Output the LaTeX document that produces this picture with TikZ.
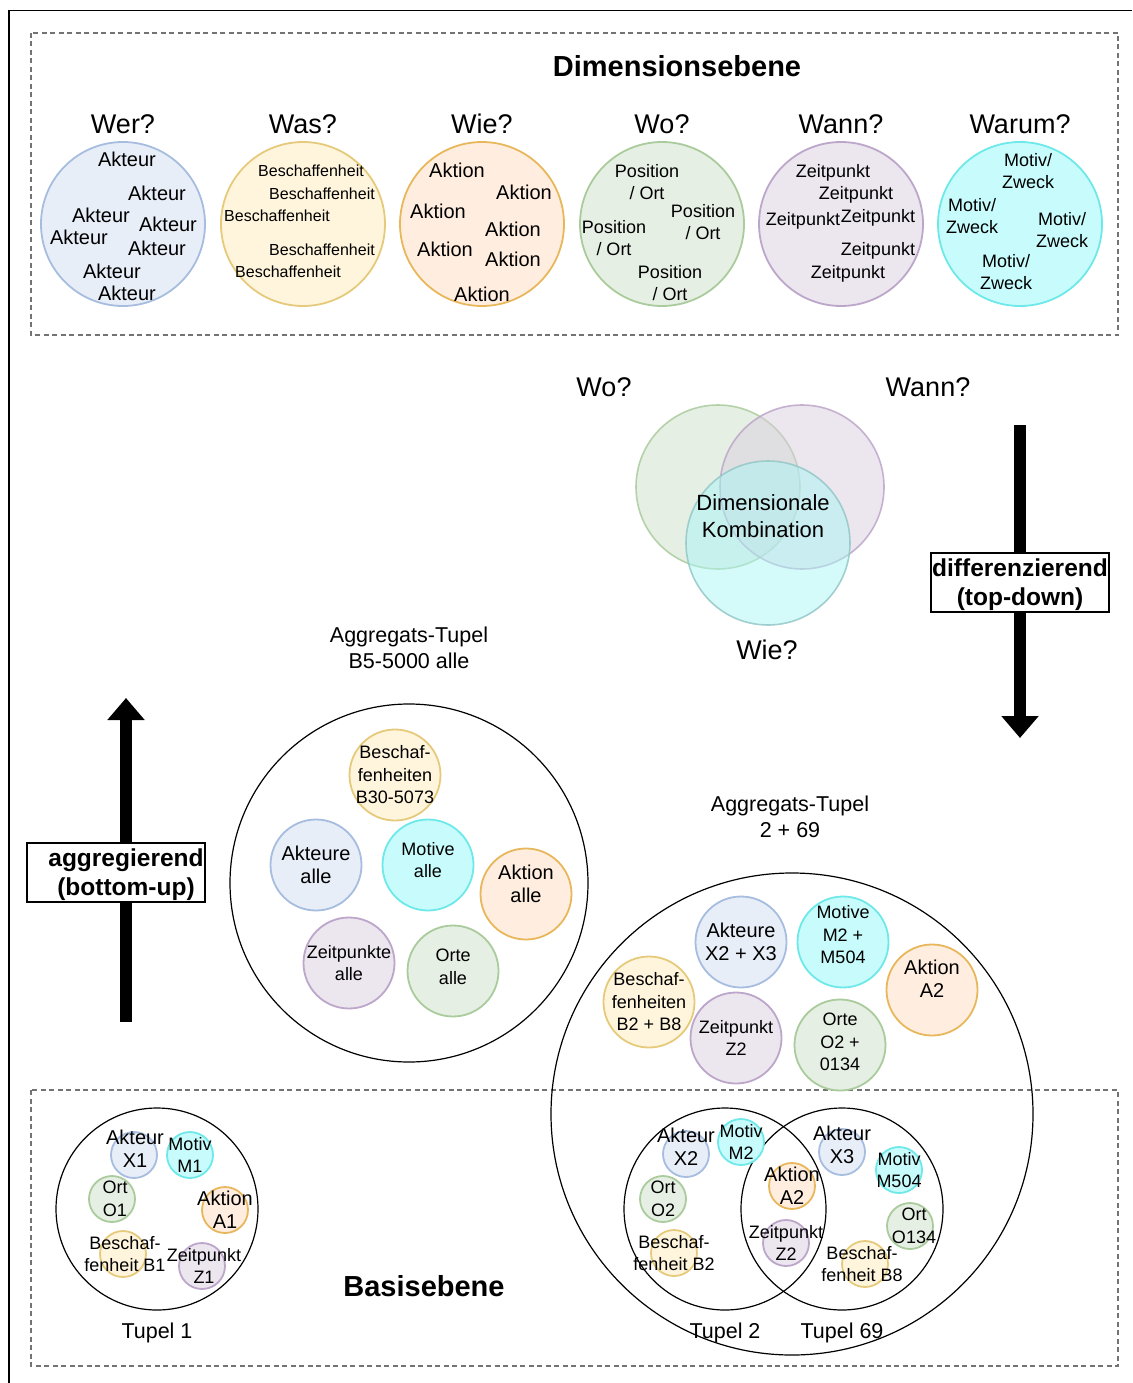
\documentclass[tikz,border=0pt]{standalone}
\usepackage{fontspec}
\setmainfont{Liberation Sans}
\usepackage{tikz}
\usetikzlibrary{positioning,arrows.meta}
\usepackage{xcolor}
% Farben der Dimensionen
\definecolor{werF}{HTML}{E8EEF8}
\definecolor{werD}{HTML}{A6BDDF}
\definecolor{wasF}{HTML}{FFF5DC}
\definecolor{wasD}{HTML}{E6CA7C}
\definecolor{wieF}{HTML}{FFEEDF}
\definecolor{wieD}{HTML}{E8B75C}
\definecolor{woF}{HTML}{E6EFE4}
\definecolor{woD}{HTML}{AACB9C}
\definecolor{wannF}{HTML}{ECE6EF}
\definecolor{wannD}{HTML}{BCA6C9}
\definecolor{warumF}{HTML}{C8FCFC}
\definecolor{warumD}{HTML}{6EE8E8}
\definecolor{woV}{HTML}{CDDFC9}
\definecolor{wannV}{HTML}{D9CDDF}
\definecolor{wieV}{HTML}{AAF5F5}

\begin{document}
\begin{tikzpicture}[
    x=1pt, y=-1pt,
    node distance=7pt,
    bubble/.style={circle, line width=1.8pt, inner sep=0pt},
    wer/.style={bubble, fill=werF, draw=werD},
    was/.style={bubble, fill=wasF, draw=wasD},
    wie/.style={bubble, fill=wieF, draw=wieD},
    wo/.style={bubble, fill=woF, draw=woD},
    wann/.style={bubble, fill=wannF, draw=wannD},
    warum/.style={bubble, fill=warumF, draw=warumD},
    dimdot/.style={minimum size=164pt},
    aggdot/.style={minimum size=91pt},
    tupdot/.style={minimum size=46pt},
    tuple/.style={circle, draw=black, line width=1.2pt, inner sep=0pt},
    venn/.style={circle, line width=1.6pt, inner sep=0pt, minimum size=164pt, fill opacity=0.5, draw opacity=0.85},
    txt/.style={inner sep=0pt, align=center, font=\fontsize{18}{22.5}\selectfont},
    txtL/.style={txt, font=\fontsize{20}{23}\selectfont},
    txtS/.style={txt, font=\fontsize{16}{20}\selectfont},
    txtM/.style={txt, font=\fontsize{21.5}{26.5}\selectfont},
    quest/.style={txt, font=\fontsize{27}{32}\selectfont},
    head/.style={txt, font=\fontsize{29}{34}\selectfont\bfseries},
    level/.style={draw=black!55, line width=1.4pt, dash pattern=on 5pt off 3.5pt},
    flowbox/.style={rectangle, draw=black, fill=white, line width=1.2pt, minimum width=178pt, minimum height=59pt, inner sep=0pt},
    flowtxt/.style={txt, font=\fontsize{24.5}{29}\selectfont\bfseries},
    flow/.style={line width=12pt, -{Triangle[width=36pt,length=22pt]}}
]
\useasboundingbox (0,0) rectangle (1132,1383);

% Rahmen und Ebenen
\draw[line width=1.3pt] (9,1383) -- (9,10.5) -- (1132,10.5);
\draw[level] (31,33) rectangle (1118,335);
\draw[level] (31,1090) rectangle (1118,1366);

% Dimensionsebene
\node[head] (dimHead) at (677,66) {Dimensionsebene};

\node[wer, dimdot] (werC) at (123,224) {};
\node[was, dimdot] (wasC) at (303,224) {};
\node[wie, dimdot] (wieC) at (482,224) {};
\node[wo, dimdot] (woC) at (662,224) {};
\node[wann, dimdot] (wannC) at (841,224) {};
\node[warum, dimdot] (warumC) at (1020,224) {};

\node[quest, above=of werC] (werQ) {Wer?};
\node[quest, above=of wasC] (wasQ) {Was?};
\node[quest, above=of wieC] (wieQ) {Wie?};
\node[quest, above=of woC] (woQ) {Wo?};
\node[quest, above=of wannC] (wannQ) {Wann?};
\node[quest, above=of warumC] (warumQ) {Warum?};

\foreach \px/\py [count=\i] in {127/159, 157/193, 101/215, 168/224, 79/237, 157/248, 112/271, 127/293}
  \node[txtL] (akteur\i) at (\px,\py) {Akteur};
\foreach \px/\py [count=\i] in {311/171, 322/194, 277/216, 322/250, 288/272}
  \node[txtS] (beschaff\i) at (\px,\py) {Beschaffenheit};
\foreach \px/\py [count=\i] in {457/170, 524/192, 438/211, 513/229, 445/249, 513/259, 482/294}
  \node[txtL] (aktion\i) at (\px,\py) {Aktion};
\foreach \px/\py [count=\i] in {647/182, 703/222, 614/238, 670/283}
  \node[txt] (position\i) at (\px,\py) {Position\\/ Ort};
\foreach \px/\py [count=\i] in {833/173, 856/195, 803/221, 878/218, 878/251, 848/274}
  \node[txt] (zeitpunkt\i) at (\px,\py) {Zeitpunkt};
\foreach \px/\py [count=\i] in {1028/171, 972/216, 1062/230, 1006/272}
  \node[txt] (motiv\i) at (\px,\py) {Motiv/\\Zweck};

% Dimensionale Kombination
\node[venn, fill=woV, draw=woD] (vennWo) at (718,487) {};
\node[venn, fill=wannV, draw=wannD] (vennWann) at (802,487) {};
\node[venn, fill=wieV, draw=warumD!70!black!60] (vennWie) at (768,543) {};
\node[quest] (vennWoQ) at (604,387) {Wo?};
\node[quest] (vennWannQ) at (928,387) {Wann?};
\node[quest] (vennWieQ) at (767,650) {Wie?};
\node[txt, font=\fontsize{22}{27}\selectfont] (kombi) at (763,516) {Dimensionale\\Kombination};

% differenzierend
\coordinate (dfTop) at (1020,425);
\coordinate (dfTip) at (1020,738);
\draw[flow] (dfTop) -- (dfTip);
\node[flowbox] (dfBox) at (1020,582.5) {};
\node[flowtxt] (dfTxt) at (1020,585) {differenzierend\\(top-down)};

% aggregierend
\coordinate (agBottom) at (126,1022);
\coordinate (agTip) at (126,698);
\draw[flow] (agBottom) -- (agTip);
\node[flowbox] (agBox) at (116,872.5) {};
\node[flowtxt] (agTxt) at (126,875) {aggregierend\\(bottom-up)};

% Aggregats-Tupel B5-5000
\node[txtM] (aggAlbl) at (409,648) {Aggregats-Tupel\\B5-5000 alle};
\node[tuple, minimum size=358pt] (aggA) at (409,883) {};
\node[was, aggdot, label={[txt]center:Beschaf-\\fenheiten\\B30-5073}] (aggAwas) at (395,775) {};
\node[wer, aggdot, label={[txtL]center:Akteure\\alle}] (aggAwer) at (316,865) {};
\node[warum, aggdot, label={[txt, yshift=5pt]center:Motive\\alle}] (aggAwarum) at (428,865) {};
\node[wie, aggdot, label={[txtL, yshift=10pt]center:Aktion\\alle}] (aggAwie) at (526,894) {};
\node[wann, aggdot, label={[txt]center:Zeitpunkte\\alle}] (aggAwann) at (349,963) {};
\node[wo, aggdot, label={[txt, yshift=4pt]center:Orte\\alle}] (aggAwo) at (453,971) {};

% Aggregats-Tupel 2 + 69
\node[txtM] (aggBlbl) at (790,817) {Aggregats-Tupel\\2 + 69};
\node[tuple, minimum size=482pt] (aggB) at (792,1114) {};
\node[wer, aggdot, label={[txtL]center:Akteure\\X2 + X3}] (aggBwer) at (741,942) {};
\node[warum, aggdot, label={[txt, yshift=7pt]center:Motive\\M2 +\\M504}] (aggBwarum) at (843,942) {};
\node[wie, aggdot, label={[txtL, yshift=11pt]center:Aktion\\A2}] (aggBwie) at (932,990) {};
\node[was, aggdot, label={[txt]center:Beschaf-\\fenheiten\\B2 + B8}] (aggBwas) at (649,1002) {};
\node[wann, aggdot, label={[txt]center:Zeitpunkt\\Z2}] (aggBwann) at (736,1038) {};
\node[wo, aggdot, label={[txt, yshift=3pt]center:Orte\\O2 +\\0134}] (aggBwo) at (840,1045) {};

% Basisebene
\node[head] (baseHead) at (424,1286) {Basisebene};

% Tupel 1
\node[tuple, minimum size=202pt] (tupA) at (157,1209) {};
\node[txtM, below=12pt of tupA] (tupAlbl) {Tupel 1};
\node[wer, tupdot, label={[txtL, yshift=6.5pt, xshift=1pt]center:Akteur\\X1}] (tupAwer) at (134,1155) {};
\node[warum, tupdot, label={[txt]center:Motiv\\M1}] (tupAwarum) at (190,1155) {};
\node[wo, tupdot, label={[txt, xshift=3pt]center:Ort\\O1}] (tupAwo) at (112,1199) {};
\node[wie, tupdot, label={[txtL]center:Aktion\\A1}] (tupAwie) at (225,1210) {};
\node[was, tupdot, label={[txt, xshift=2pt]center:Beschaf-\\fenheit B1}] (tupAwas) at (123,1254) {};
\node[wann, tupdot, label={[txt, xshift=2pt]center:Zeitpunkt\\Z1}] (tupAwann) at (202,1266) {};

% Tupel 2 und Tupel 69
\node[tuple, minimum size=202pt] (tupB) at (725,1209) {};
\node[tuple, minimum size=202pt] (tupC) at (842,1209) {};
\node[txtM, below=12pt of tupB] (tupBlbl) {Tupel 2};
\node[txtM, below=12pt of tupC] (tupClbl) {Tupel 69};
\node[wer, tupdot, label={[txtL, yshift=7.5pt]center:Akteur\\X2}] (tupBwer) at (686,1154) {};
\node[warum, tupdot, label={[txt]center:Motiv\\M2}] (tupBwarum) at (741,1142) {};
\node[wo, tupdot, label={[txt]center:Ort\\O2}] (tupBwo) at (663,1199) {};
\node[was, tupdot, label={[txt]center:Beschaf-\\fenheit B2}] (tupBwas) at (674,1253) {};
\node[wie, tupdot, label={[txtL]center:Aktion\\A2}] (tupBCwie) at (792,1186) {};
\node[wann, tupdot, label={[txt]center:Zeitpunkt\\Z2}] (tupBCwann) at (786,1243) {};
\node[wer, tupdot, label={[txtL, yshift=7pt]center:Akteur\\X3}] (tupCwer) at (842,1152) {};
\node[warum, tupdot, label={[txt]center:Motiv\\M504}] (tupCwarum) at (899,1170) {};
\node[wo, tupdot, label={[txt, xshift=4pt]center:Ort\\O134}] (tupCwo) at (910,1226) {};
\node[was, tupdot, label={[txt, xshift=-3pt]center:Beschaf-\\fenheit B8}] (tupCwas) at (865,1264) {};
\end{tikzpicture}
\end{document}
